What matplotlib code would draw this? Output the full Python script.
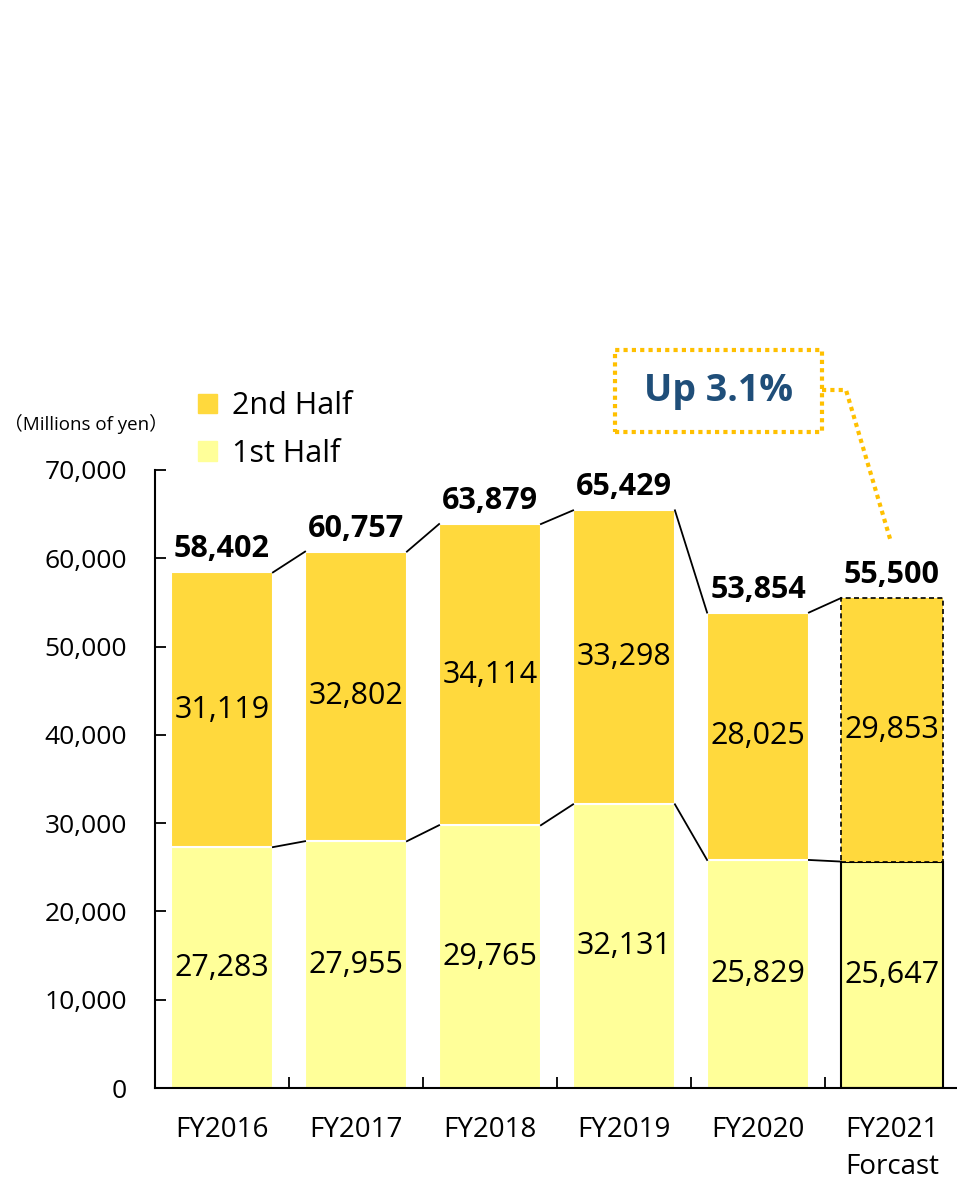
import matplotlib.pyplot as plt
from matplotlib.patches import Patch

plt.rcParams['font.family'] = ['Open Sans', 'Noto Sans CJK JP', 'DejaVu Sans']

years = ['FY2016', 'FY2017', 'FY2018', 'FY2019', 'FY2020', 'FY2021\nForcast']
first_half = [27283, 27955, 29765, 32131, 25829, 25647]
second_half = [31119, 32802, 34114, 33298, 28025, 29853]
totals = [58402, 60757, 63879, 65429, 53854, 55500]
yticks = [0, 10000, 20000, 30000, 40000, 50000, 60000, 70000]

c2 = '#FFD93D'
c1 = '#FFFF99'
w = 0.76

fig = plt.figure(figsize=(9.57, 11.79), dpi=100)
ax = fig.add_axes([155 / 957, 91 / 1179, 804 / 957, 618 / 1179])
x = list(range(len(years)))

ax.bar(x[:-1], first_half[:-1], width=w, color=c1, edgecolor='white', linewidth=1.5)
ax.bar(x[:-1], second_half[:-1], bottom=first_half[:-1], width=w, color=c2,
       edgecolor='white', linewidth=1.5)
# forecast bar
ax.bar(x[-1], first_half[-1], width=w, color=c1, edgecolor='black', linewidth=1.5)
ax.bar(x[-1], second_half[-1], bottom=first_half[-1], width=w, color=c2,
       edgecolor='black', linewidth=1.2, linestyle=(0, (3, 2)))

# connector lines
for i in range(len(years) - 1):
    ax.plot([i + w / 2, i + 1 - w / 2], [totals[i], totals[i + 1]], color='black', lw=1.3)
    ax.plot([i + w / 2, i + 1 - w / 2], [first_half[i], first_half[i + 1]], color='black', lw=1.3)

for i in x:
    ax.text(i, first_half[i] / 2, f'{first_half[i]:,}', ha='center', va='center', fontsize=22)
    ax.text(i, first_half[i] + second_half[i] / 2, f'{second_half[i]:,}',
            ha='center', va='center', fontsize=22)
    ax.text(i, totals[i] + 900, f'{totals[i]:,}', ha='center', va='bottom',
            fontsize=22, fontweight='bold')

ax.set_xlim(-0.5, 5.5)
ax.set_ylim(0, 70000)
ax.set_yticks(yticks)
ax.set_yticklabels([f'{v:,}' for v in yticks], fontsize=19)
ax.set_xticks([i + 0.5 for i in x[:-1]])
ax.set_xticklabels([])
ax.set_xticks(x, minor=True)
ax.set_xticklabels(years, minor=True, fontsize=20, linespacing=1.45)
ax.tick_params(axis='x', which='minor', length=0, pad=20)
ax.tick_params(axis='x', which='major', direction='in', length=8, width=1.3)
ax.tick_params(axis='y', direction='in', length=8, width=1.3, pad=20)
for s in ['top', 'right']:
    ax.spines[s].set_visible(False)
for s in ['left', 'bottom']:
    ax.spines[s].set_linewidth(1.5)

fig.text(4 / 957, 1 - 424 / 1179, '（Millions of yen）', fontsize=13.5, va='center', ha='left')

handles = [Patch(color=c2, label='2nd Half'), Patch(color=c1, label='1st Half')]
fig.legend(handles=handles, loc='upper left', bbox_to_anchor=(186 / 957, 1 - 379 / 1179),
           frameon=False, fontsize=22, handlelength=0.6, handleheight=0.6,
           handletextpad=0.5, labelspacing=0.58, borderaxespad=0)

# annotation box
fig.text(719 / 957, 1 - 391 / 1179, 'Up 3.1%', fontsize=27, fontweight='bold',
         color='#1F4E79', ha='center', va='center')
box = plt.Rectangle((615 / 957, 1 - 432 / 1179), 207 / 957, 82 / 1179,
                    transform=fig.transFigure, fill=False, edgecolor='#FFC000',
                    lw=3, linestyle=(0, (1, 1)))
fig.add_artist(box)
fig.add_artist(plt.Line2D([822 / 957, 846 / 957, 891 / 957],
                          [1 - 390 / 1179, 1 - 390 / 1179, 1 - 542 / 1179],
                          transform=fig.transFigure, color='#FFC000', lw=3,
                          linestyle=(0, (1, 1))))

fig.savefig('out.png', dpi=100)
